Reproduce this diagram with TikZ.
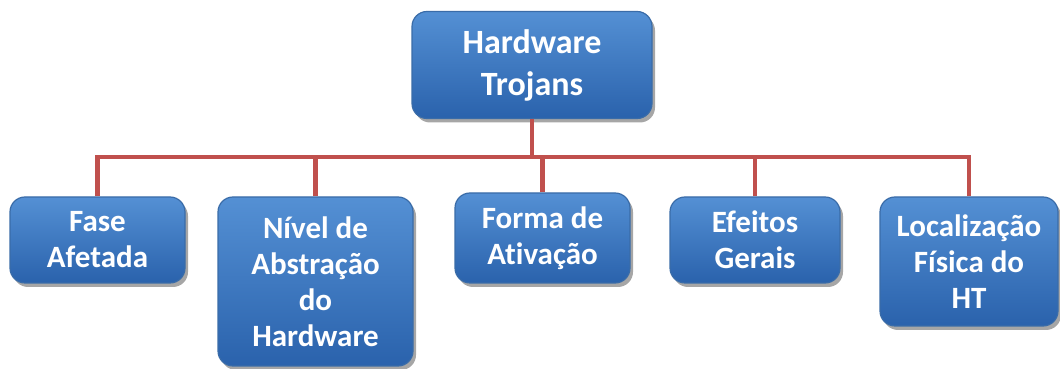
\documentclass[tikz,border=0pt]{standalone}
\usepackage{fontspec}
\setmainfont{Carlito}[Ligatures=NoCommon]
\usetikzlibrary{shadows}
\definecolor{boxtop}{RGB}{84,144,212}
\definecolor{boxbot}{RGB}{42,98,172}
\definecolor{boxline}{RGB}{58,108,168}
\definecolor{linkred}{RGB}{192,80,77}
\begin{document}
\begin{tikzpicture}[x=1pt,y=1pt,
  hbox/.style={draw=boxline, line width=1.2pt, rounded corners=15pt,
    top color=boxtop, bottom color=boxbot, text=white,
    font=\bfseries\fontsize{31}{36}\selectfont, align=center,
    drop shadow={shadow xshift=3pt, shadow yshift=-4pt, fill=black, opacity=0.35},
    inner sep=0pt},
  link/.style={draw=linkred, line width=4.5pt}]
\useasboundingbox (0,0) rectangle (1060,369);
\fill[white] (0,0) rectangle (1060,369);
\node[hbox, minimum width=240pt, minimum height=107pt,
  font=\bfseries\fontsize{34}{42}\selectfont] (ht) at (532,304) {Hardware\\Trojans};
\node[hbox, minimum width=175pt, minimum height=86pt] (fa) at (97.5,129) {Fase\\Afetada};
\node[hbox, minimum width=195pt, minimum height=169pt] (na) at (315.5,87.5) {Nível de\\Abstração\\do\\Hardware};
\node[hbox, minimum width=175pt, minimum height=90pt] (fo) at (542.5,131) {Forma de\\Ativação};
\node[hbox, minimum width=170pt, minimum height=86pt] (ef) at (755,129) {Efeitos\\Gerais};
\node[hbox, minimum width=178pt, minimum height=129pt] (lo) at (969,107.5) {Localização\\Física do\\HT};
\coordinate (bus) at (532,212);
\draw[link] (ht.south) -- (bus);
\draw[link] (fa.north) |- (bus);
\draw[link] (lo.north) |- (bus);
\draw[link] (na.north) -- (na.north |- bus);
\draw[link] (ef.north) -- (ef.north |- bus);
\draw[link] (fo.north) -- (fo.north |- bus);
\end{tikzpicture}
\end{document}
